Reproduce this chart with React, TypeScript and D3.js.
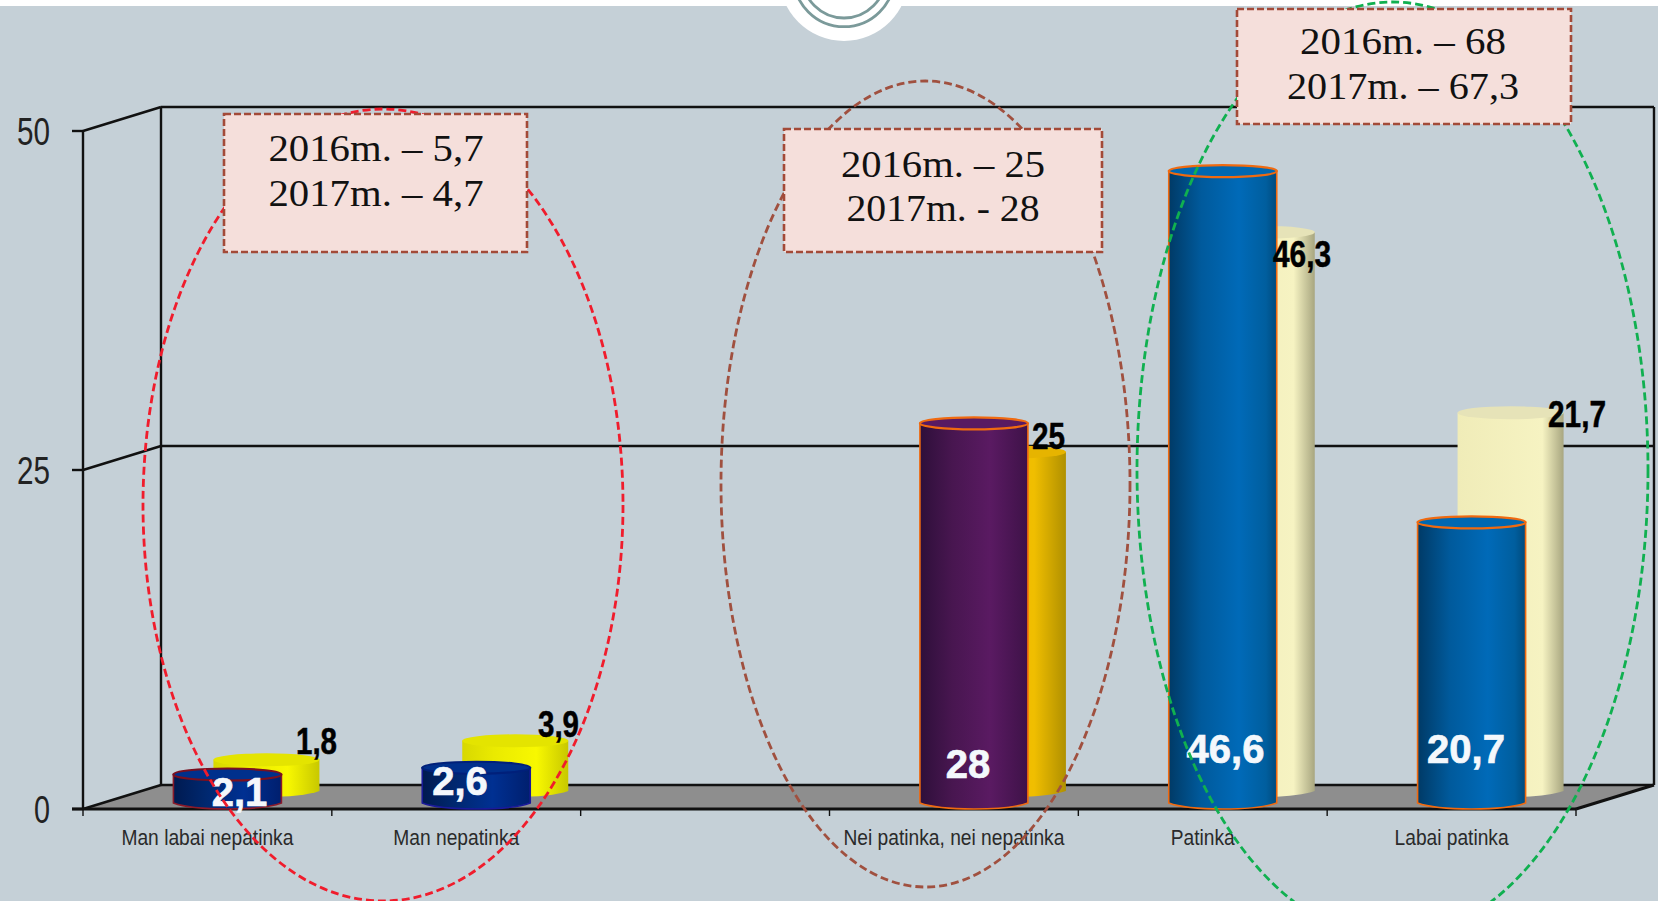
import React from "react";
import * as d3 from "d3";

const categories = ["Man labai nepatinka", "Man nepatinka", "", "Nei patinka, nei nepatinka", "Patinka", "Labai patinka"];
const barCategories = ["Man labai nepatinka", "Man nepatinka", "Nei patinka, nei nepatinka", "Patinka", "Labai patinka"];
const frontValues = [2.1, 2.6, 28, 46.6, 20.7];
const frontLabels = ["2,1", "2,6", "28", "46,6", "20,7"];
// Drawn heights of the rear cylinders as they stand in the picture
const backHeights = [2.3, 3.7, 25, 41.2, 27.9];
const backLabels = ["1,8", "3,9", "25", "46,3", "21,7"];
const yTicks = [0, 25, 50];
const notes = [
  { lines: ["2016m. – 5,7", "2017m. – 4,7"] },
  { lines: ["2016m. – 25", "2017m. - 28"] },
  { lines: ["2016m. – 68", "2017m. – 67,3"] },
];

const W = 1658, H = 901;
const BG = "#c5d0d7";
const x0 = 83, x1 = 1576, DX = 78, DY = -24;
const x = d3.scaleBand<string>().domain(categories).range([x0, x1]);
const y = d3.scaleLinear().domain([0, 50]).range([809, 131]);

const frontStyle = [
  { g: "navy", top: "#00308c", stroke: "#8a1a2a", topStroke: "#7a1020" },
  { g: "navy", top: "#00308c", stroke: "#1a1a9a", topStroke: "#00207a" },
  { g: "purple", top: "#581a62", stroke: "#f06a10", topStroke: "#f06a10" },
  { g: "blue", top: "#0068b2", stroke: "#f06a10", topStroke: "#f06a10" },
  { g: "blue", top: "#0068b2", stroke: "#f06a10", topStroke: "#f06a10" },
];
const backStyle = [
  { g: "yellow", top: "#e4e400" },
  { g: "yellow", top: "#e4e400" },
  { g: "gold", top: "#e6b400" },
  { g: "cream", top: "#e6e3b8" },
  { g: "cream", top: "#e6e3b8" },
];
const gradients: Record<string, [number, string][]> = {
  navy: [[0, "#001a50"], [0.3, "#00286f"], [0.65, "#003092"], [1, "#001f6e"]],
  purple: [[0, "#2e0f3a"], [0.3, "#481650"], [0.65, "#5a1a62"], [1, "#3e1248"]],
  blue: [[0, "#003a66"], [0.3, "#005a9c"], [0.65, "#006ab8"], [0.9, "#005e9e"], [1, "#004a7c"]],
  yellow: [[0, "#d8d800"], [0.3, "#eaea00"], [0.7, "#f8f800"], [1, "#c8c800"]],
  gold: [[0, "#f0bc00"], [0.7, "#f0be00"], [1, "#b09000"]],
  cream: [[0, "#f0ecb8"], [0.8, "#f6f3c2"], [1, "#a8a680"]],
};

function cyl(cx: number, hw: number, base: number, top: number, ry: number) {
  const p = d3.path();
  p.moveTo(cx - hw, top);
  p.lineTo(cx - hw, base);
  p.bezierCurveTo(cx - hw * 0.6, base + ry * 1.33, cx + hw * 0.6, base + ry * 1.33, cx + hw, base);
  p.lineTo(cx + hw, top);
  p.closePath();
  return p.toString();
}

const sans = "'Liberation Sans', Arial, sans-serif";
const serif = "'Liberation Serif', serif";

export default function App() {
  const h = (v: number) => y(0) - y(v);
  const center = (c: string) => (x(c) as number) + x.bandwidth() / 2;
  const frontBase = 803, backBase = 791;

  const boxes = [
    { x: 224, y: 114, w: 303, h: 138, cx: 376, base: [161, 206], len: [215, 215] },
    { x: 784, y: 129, w: 318, h: 123, cx: 943, base: [177, 221], len: [204, 193] },
    { x: 1237, y: 9, w: 334, h: 115, cx: 1403, base: [54, 99], len: [206, 232] },
  ];
  const ellipses = [
    { cx: 383, cy: 505, rx: 240, ry: 396, c: "#f01c2c" },
    { cx: 925.5, cy: 484, rx: 204.5, ry: 403, c: "#a0503f" },
    { cx: 1392.5, cy: 470, rx: 255.5, ry: 468, c: "#10b050" },
  ];
  const backLabelPos = [
    { l: 296, r: 337, b: 754 },
    { l: 538, r: 579, b: 737 },
    { l: 1032, r: 1065, b: 449 },
    { l: 1273, r: 1331, b: 267 },
    { l: 1548, r: 1606, b: 427 },
  ];
  const frontLabelPos = [
    { cx: 239.5, b: 806 },
    { cx: 460, b: 795 },
    { cx: 968, b: 778 },
    { cx: 1225.5, b: 763 },
    { cx: 1466, b: 763 },
  ];
  const categoryLabelLen: Record<string, number> = {
    "Man labai nepatinka": 172,
    "Man nepatinka": 126,
    "Nei patinka, nei nepatinka": 221,
    "Patinka": 64,
    "Labai patinka": 114,
  };

  return (
    <svg width={W} height={H} viewBox={`0 0 ${W} ${H}`} style={{ position: "absolute", left: 0, top: 0, display: "block" }}>
      <defs>
        {Object.entries(gradients).map(([k, stops]) => (
          <linearGradient key={k} id={`g-${k}`} x1="0" x2="1" y1="0" y2="0">
            {stops.map(([o, c], i) => <stop key={i} offset={o} stopColor={c} />)}
          </linearGradient>
        ))}
      </defs>
      <rect width={W} height={H} fill={BG} />
      <rect width={W} height={6} fill="#fff" />
      <circle cx={844} cy={-23.7} r={64.7} fill="#fff" />
      <circle cx={844} cy={-23.7} r={50.4} fill="none" stroke="#7b9a9a" strokeWidth={2.8} />
      <circle cx={844} cy={-23.7} r={41.7} fill="none" stroke="#7b9a9a" strokeWidth={2.8} />

      <polygon points={`${x0},${y(0)} ${x0 + DX},${y(0) + DY} ${x1 + DX},${y(0) + DY} ${x1},${y(0)}`} fill="#8e8e8e" />
      <g stroke="#111" fill="none" strokeWidth={2.4}>
        {yTicks.map((t) => (
          <g key={t}>
            <line x1={x0 - 11} x2={x0} y1={y(t)} y2={y(t)} />
            <line x1={x0} x2={x0 + DX} y1={y(t)} y2={y(t) + DY} />
            <line x1={x0 + DX} x2={x1 + DX} y1={y(t) + DY} y2={y(t) + DY} />
          </g>
        ))}
        <line x1={x0} x2={x0} y1={y(50)} y2={y(0)} />
        <line x1={x0 + DX} x2={x0 + DX} y1={y(50) + DY} y2={y(0) + DY} />
        <line x1={x1 + DX} x2={x1 + DX} y1={y(50) + DY} y2={y(0) + DY} />
        <line x1={x1} x2={x1 + DX} y1={y(0)} y2={y(0) + DY} strokeWidth={3} />
        <line x1={x0 - 11} x2={x1} y1={y(0)} y2={y(0)} strokeWidth={3} />
        {[...categories.map((c) => x(c) as number), x1].map((t, i) => (
          <line key={i} x1={t} x2={t} y1={y(0)} y2={y(0) + 7} strokeWidth={1.4} />
        ))}
      </g>

      {yTicks.map((t) => (
        <text key={t} x={50} y={y(t) + 14} textAnchor="end" fontFamily={sans} fontSize={38} fill="#222"
          textLength={t === 0 ? 16 : 33} lengthAdjust="spacingAndGlyphs">{t}</text>
      ))}

      {barCategories.map((c, i) => {
        const cx = center(c) + 59, hw = 53, s = backStyle[i], top = backBase - h(backHeights[i]);
        return (
          <g key={c}>
            <path d={cyl(cx, hw, backBase, top, 6)} fill={`url(#g-${s.g})`} />
            <ellipse cx={cx} cy={top} rx={hw} ry={6.5} fill={s.top} />
          </g>
        );
      })}
      {barCategories.map((c, i) => {
        const cx = center(c) + 20, hw = 54, s = frontStyle[i], top = frontBase - h(frontValues[i]);
        return (
          <g key={c}>
            <path d={cyl(cx, hw, frontBase, top, 6)} fill={`url(#g-${s.g})`} stroke={s.stroke} strokeWidth={1.6} />
            <ellipse cx={cx} cy={top} rx={hw} ry={6} fill={s.top} stroke={s.topStroke} strokeWidth={2.2} />
          </g>
        );
      })}

      {backLabels.map((t, i) => (
        <text key={t} x={backLabelPos[i].l} y={backLabelPos[i].b} fontFamily={sans} fontWeight={700} fontSize={36} fill="#000"
          stroke="#000" strokeWidth={0.5}
          textLength={backLabelPos[i].r - backLabelPos[i].l} lengthAdjust="spacingAndGlyphs">{t}</text>
      ))}
      {frontLabels.map((t, i) => (
        <text key={t} x={frontLabelPos[i].cx} y={frontLabelPos[i].b} textAnchor="middle" fontFamily={sans} fontWeight={700} fontSize={40}
          fill="#f4f8fc" stroke="#f4f8fc" strokeWidth={0.7}>{t}</text>
      ))}

      {categories.filter(Boolean).map((c) => (
        <text key={c} x={center(c)} y={845} textAnchor="middle" fontFamily={sans} fontSize={22} fill="#2a2a2a"
          textLength={categoryLabelLen[c]} lengthAdjust="spacingAndGlyphs">{c}</text>
      ))}

      {ellipses.map((e, i) => (
        <ellipse key={i} cx={e.cx} cy={e.cy} rx={e.rx} ry={e.ry} fill="none" stroke={e.c} strokeWidth={2.8} strokeDasharray="8 4" />
      ))}

      {notes.map((n, i) => {
        const b = boxes[i];
        return (
          <g key={i}>
            <rect x={b.x} y={b.y} width={b.w} height={b.h} fill="#f5dfdb" stroke="#a34a38" strokeWidth={2.6} strokeDasharray="7 3" />
            {n.lines.map((l, j) => (
              <text key={j} x={b.cx} y={b.base[j]} textAnchor="middle" fontFamily={serif} fontSize={38} fill="#111"
                textLength={b.len[j]} lengthAdjust="spacingAndGlyphs">{l}</text>
            ))}
          </g>
        );
      })}
    </svg>
  );
}
